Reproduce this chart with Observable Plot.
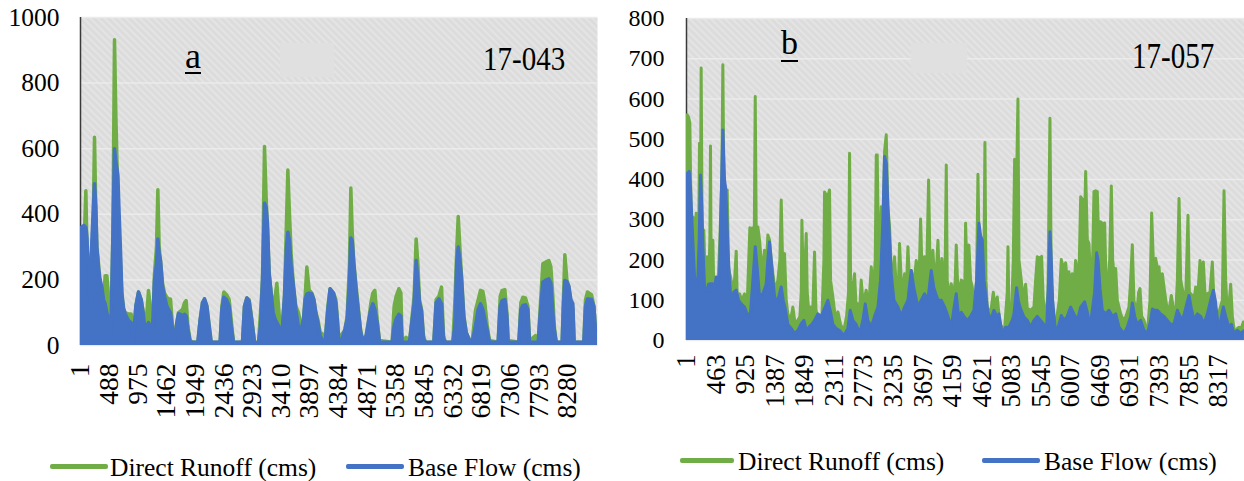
<!DOCTYPE html>
<html><head><meta charset="utf-8">
<script src="https://cdn.jsdelivr.net/npm/d3@7"></script>
<script src="https://cdn.jsdelivr.net/npm/@observablehq/plot@0.6"></script>
<style>
body{margin:0;background:#fff;}
#wrap{position:relative;width:1244px;height:481px;overflow:hidden;font-family:"Liberation Serif",serif;color:#000;}
.panel{position:absolute;top:0;}
.lab{position:absolute;line-height:1;white-space:nowrap;font-family:"Liberation Serif",serif;}
.sw{position:absolute;height:5px;border-radius:2px;}
.patch{position:absolute;background:#e0e0e0;}
.lt{position:absolute;font-size:25.5px;line-height:30px;white-space:nowrap;font-family:"Liberation Serif",serif;}
svg text{font-family:"Liberation Serif",serif;}
</style></head><body>
<svg width="0" height="0" style="position:absolute"><defs>
<pattern id="hatch" patternUnits="userSpaceOnUse" width="5" height="5" patternTransform="rotate(-45)">
<rect width="5" height="5" fill="#dcdcdc"/><line x1="1" y1="0" x2="1" y2="5" stroke="#e7e7e7" stroke-width="1.6"/>
</pattern></defs></svg>
<div id="wrap"></div>
<script>
const GREEN = "#70ad47", BLUE = "#4472c4";
const SERIF = "Liberation Serif";
const seriesNames = ["Direct Runoff (cms)", "Base Flow (cms)"];

// Panel a : station 17-043
const aYTicks = [0,200,400,600,800,1000];
const aXTicks = [1,488,975,1462,1949,2436,2923,3410,3897,4384,4871,5358,5845,6332,6819,7306,7793,8280];
const aDirectRunoff = [[1,70],[12,320],[60,300],[92,472],[110,300],[137,265],[165,80],[194,100],[239,635],[262,400],[279,300],[307,250],[335,150],[364,120],[392,140],[420,213],[449,213],[488,130],[517,30],[551,330],[579,932],[602,700],[636,450],[658,330],[681,250],[704,160],[732,110],[760,100],[817,96],[862,96],[902,30],[942,120],[987,163],[1032,140],[1072,100],[1100,40],[1129,100],[1157,168],[1185,120],[1225,40],[1259,220],[1293,300],[1316,475],[1338,300],[1361,260],[1395,190],[1429,160],[1469,147],[1497,142],[1531,142],[1565,60],[1599,20],[1639,70],[1667,100],[1701,105],[1735,110],[1769,130],[1797,137],[1826,60],[1865,15],[1922,10],[1996,10],[2036,80],[2075,130],[2109,142],[2149,120],[2188,60],[2222,10],[2375,10],[2404,120],[2438,163],[2483,155],[2528,140],[2562,80],[2602,10],[2755,10],[2789,120],[2829,145],[2868,140],[2914,80],[2959,10],[3027,10],[3061,100],[3095,200],[3129,607],[3157,450],[3180,350],[3208,220],[3242,160],[3276,110],[3310,150],[3339,190],[3367,120],[3395,60],[3435,70],[3469,150],[3503,380],[3526,535],[3554,400],[3582,280],[3622,180],[3662,120],[3707,100],[3752,60],[3792,80],[3820,150],[3849,239],[3888,170],[3934,160],[3968,140],[4002,100],[4036,80],[4075,40],[4115,35],[4160,15],[4206,120],[4245,173],[4302,160],[4342,140],[4364,90],[4393,20],[4449,36],[4495,45],[4534,90],[4574,250],[4597,480],[4619,350],[4648,250],[4687,180],[4721,120],[4761,50],[4801,15],[4857,30],[4903,80],[4937,130],[4971,160],[5005,168],[5044,80],[5084,15],[5299,10],[5333,120],[5367,150],[5413,173],[5447,160],[5469,15],[5537,25],[5594,10],[5673,150],[5707,325],[5736,250],[5764,140],[5798,110],[5832,30],[5866,10],[6008,10],[6047,140],[6093,150],[6138,178],[6172,30],[6206,10],[6331,10],[6365,130],[6399,300],[6422,393],[6450,300],[6478,210],[6518,90],[6558,40],[6603,20],[6660,15],[6716,107],[6762,140],[6801,168],[6841,165],[6875,130],[6915,60],[6954,15],[7101,10],[7136,150],[7169,168],[7215,170],[7249,100],[7271,15],[7453,10],[7487,130],[7521,147],[7566,145],[7606,120],[7634,15],[7702,25],[7736,30],[7782,10],[7827,150],[7861,249],[7918,255],[7963,259],[7997,240],[8031,150],[8054,60],[8088,10],[8189,10],[8212,150],[8235,277],[8269,200],[8303,180],[8337,130],[8371,110],[8393,10],[8558,10],[8586,140],[8620,163],[8688,155],[8728,120],[8756,46],[8790,10]];
const aBaseFlow = [[1,300],[12,360],[60,366],[92,360],[110,330],[137,218],[165,120],[194,320],[239,493],[262,420],[279,300],[307,239],[335,200],[364,178],[392,140],[420,127],[449,100],[488,76],[517,25],[551,330],[579,600],[602,560],[636,520],[658,400],[681,290],[704,157],[732,115],[760,97],[817,76],[862,70],[902,20],[942,120],[987,163],[1032,140],[1072,90],[1100,40],[1129,60],[1157,70],[1185,60],[1225,50],[1259,200],[1293,250],[1316,325],[1338,280],[1361,259],[1395,180],[1429,150],[1469,120],[1497,110],[1531,100],[1565,50],[1599,10],[1639,70],[1667,97],[1701,95],[1735,90],[1769,95],[1797,90],[1826,50],[1865,12],[1922,10],[1996,10],[2036,80],[2075,130],[2109,142],[2149,120],[2188,60],[2222,10],[2375,10],[2404,110],[2438,147],[2483,140],[2528,120],[2562,60],[2602,10],[2755,10],[2789,120],[2829,145],[2868,135],[2914,75],[2959,10],[3027,8],[3061,60],[3095,200],[3129,434],[3157,420],[3180,370],[3208,220],[3242,160],[3276,100],[3310,80],[3339,70],[3367,60],[3395,45],[3435,60],[3469,150],[3503,300],[3526,345],[3554,320],[3582,240],[3622,180],[3662,110],[3707,55],[3752,50],[3792,80],[3820,140],[3849,157],[3888,160],[3934,157],[3968,140],[4002,100],[4036,70],[4075,30],[4115,15],[4160,10],[4206,110],[4245,173],[4302,160],[4342,130],[4364,86],[4393,15],[4449,20],[4495,50],[4534,80],[4574,200],[4597,328],[4619,320],[4648,249],[4687,168],[4721,110],[4761,45],[4801,10],[4857,30],[4903,80],[4937,110],[4971,127],[5005,110],[5044,70],[5084,10],[5299,10],[5333,60],[5367,81],[5413,95],[5447,90],[5469,10],[5537,10],[5594,10],[5673,130],[5707,259],[5736,200],[5764,130],[5798,107],[5832,20],[5866,10],[6008,10],[6047,130],[6093,142],[6138,127],[6172,20],[6206,10],[6331,10],[6365,60],[6399,260],[6422,300],[6450,260],[6478,208],[6518,86],[6558,40],[6603,20],[6660,10],[6716,60],[6762,110],[6801,127],[6841,110],[6875,80],[6915,46],[6954,10],[7101,10],[7136,120],[7169,137],[7215,140],[7249,90],[7271,10],[7453,10],[7487,110],[7521,122],[7566,124],[7606,110],[7634,10],[7702,10],[7736,10],[7782,10],[7827,120],[7861,193],[7918,200],[7963,203],[7997,190],[8031,100],[8054,50],[8088,10],[8189,10],[8212,130],[8235,198],[8269,195],[8303,180],[8337,140],[8371,127],[8393,10],[8558,10],[8586,120],[8620,142],[8688,140],[8728,120],[8756,46],[8790,10]];

// Panel b : station 17-057
const bYTicks = [0,100,200,300,400,500,600,700,800];
const bXTicks = [1,463,925,1387,1849,2311,2773,3235,3697,4159,4621,5083,5545,6007,6469,6931,7393,7855,8317];
const bDirectRunoff = [[1,230],[12,561],[33,555],[53,540],[74,300],[100,307],[126,250],[152,316],[168,150],[189,200],[204,490],[215,200],[230,677],[246,250],[272,274],[293,150],[324,208],[345,120],[366,250],[376,483],[387,150],[413,249],[428,120],[465,150],[491,130],[522,250],[553,400],[569,685],[585,380],[606,370],[637,374],[658,180],[699,150],[741,120],[778,222],[793,110],[830,116],[866,100],[908,116],[949,90],[991,280],[1012,278],[1038,280],[1059,240],[1075,606],[1090,280],[1116,282],[1142,250],[1168,200],[1194,180],[1220,224],[1246,170],[1272,262],[1298,250],[1325,200],[1351,166],[1387,120],[1429,150],[1460,200],[1481,349],[1502,200],[1533,216],[1559,100],[1585,66],[1627,50],[1663,83],[1700,40],[1741,50],[1773,60],[1794,120],[1804,299],[1825,150],[1856,200],[1872,266],[1887,120],[1918,60],[1939,83],[1971,60],[2002,220],[2023,80],[2054,40],[2080,33],[2117,60],[2148,200],[2158,369],[2189,360],[2221,365],[2236,374],[2252,150],[2288,108],[2325,60],[2367,71],[2408,40],[2460,25],[2502,60],[2533,120],[2549,465],[2565,150],[2596,120],[2627,166],[2653,80],[2679,91],[2705,70],[2731,150],[2762,90],[2809,125],[2846,80],[2888,183],[2919,120],[2950,200],[2966,461],[2981,461],[3002,200],[3023,240],[3044,332],[3065,240],[3096,470],[3122,511],[3148,330],[3174,282],[3200,180],[3226,150],[3252,208],[3283,120],[3315,150],[3330,241],[3356,150],[3382,120],[3409,166],[3435,120],[3461,233],[3487,140],[3513,174],[3554,140],[3591,199],[3617,150],[3643,200],[3659,302],[3680,180],[3711,150],[3721,208],[3752,150],[3784,399],[3805,200],[3825,150],[3851,224],[3888,120],[3930,249],[3956,130],[3992,204],[4023,130],[4044,200],[4060,436],[4075,150],[4112,100],[4138,141],[4169,100],[4200,150],[4216,237],[4242,120],[4268,130],[4294,150],[4326,145],[4347,100],[4362,291],[4378,200],[4414,237],[4440,150],[4466,133],[4503,80],[4534,150],[4555,413],[4576,200],[4607,233],[4628,150],[4649,200],[4664,492],[4680,150],[4701,80],[4727,75],[4763,80],[4795,120],[4826,80],[4857,108],[4899,40],[4935,33],[4972,30],[5013,120],[5024,233],[5039,80],[5076,50],[5107,200],[5128,450],[5149,300],[5180,600],[5196,200],[5232,150],[5263,100],[5300,140],[5326,80],[5378,75],[5430,83],[5456,150],[5482,208],[5514,205],[5550,209],[5576,100],[5612,50],[5649,120],[5680,552],[5701,150],[5743,33],[5795,66],[5826,100],[5857,201],[5889,180],[5925,193],[5951,150],[5977,171],[6003,120],[6029,166],[6055,120],[6081,199],[6108,150],[6139,200],[6160,357],[6191,350],[6222,300],[6238,420],[6264,250],[6290,241],[6316,150],[6347,200],[6368,370],[6394,372],[6420,370],[6441,250],[6472,295],[6503,290],[6535,292],[6556,150],[6587,141],[6613,200],[6639,384],[6660,200],[6691,150],[6707,179],[6733,100],[6785,66],[6826,50],[6863,58],[6915,83],[6941,150],[6967,238],[6993,100],[7035,66],[7066,120],[7087,129],[7113,60],[7150,50],[7202,17],[7243,100],[7269,317],[7295,200],[7332,204],[7358,180],[7384,183],[7410,130],[7436,166],[7473,120],[7514,75],[7545,80],[7577,112],[7608,80],[7645,66],[7671,150],[7697,353],[7723,150],[7764,116],[7801,100],[7837,311],[7858,120],[7905,112],[7931,100],[7957,133],[7994,120],[8025,199],[8046,150],[8077,195],[8108,100],[8139,116],[8181,120],[8217,195],[8243,100],[8296,50],[8337,80],[8374,100],[8400,372],[8426,150],[8452,66],[8483,100],[8504,140],[8530,60],[8567,17],[8608,30],[8634,33],[8671,30],[8702,46],[8718,40]];
const bBaseFlow = [[1,250],[12,415],[43,420],[64,380],[85,300],[105,230],[126,160],[152,133],[178,150],[199,250],[220,411],[241,330],[257,233],[283,133],[314,120],[345,140],[376,141],[413,141],[439,130],[465,158],[491,140],[517,166],[543,350],[569,523],[595,400],[616,374],[647,233],[673,150],[699,91],[741,120],[778,125],[814,100],[856,91],[908,83],[960,60],[1002,70],[1038,150],[1075,233],[1106,180],[1142,110],[1194,116],[1246,140],[1272,200],[1298,245],[1325,200],[1351,150],[1377,110],[1408,90],[1444,110],[1481,133],[1512,100],[1543,80],[1585,40],[1637,30],[1689,17],[1741,25],[1794,42],[1835,50],[1872,25],[1924,35],[1960,40],[2002,50],[2054,66],[2106,60],[2158,80],[2210,100],[2252,70],[2288,40],[2340,30],[2393,25],[2460,12],[2523,30],[2559,75],[2601,50],[2653,40],[2705,17],[2757,50],[2794,91],[2835,50],[2888,33],[2940,60],[2992,83],[3033,150],[3070,300],[3096,457],[3122,440],[3148,332],[3174,250],[3200,166],[3242,100],[3304,83],[3356,60],[3409,83],[3461,100],[3513,174],[3554,130],[3617,83],[3669,100],[3721,116],[3773,100],[3825,174],[3867,130],[3930,100],[3982,100],[4034,83],[4086,60],[4138,33],[4180,80],[4216,116],[4252,60],[4294,70],[4336,60],[4388,50],[4440,60],[4492,75],[4534,150],[4571,291],[4597,260],[4623,249],[4649,150],[4675,116],[4711,70],[4753,50],[4805,75],[4847,60],[4883,66],[4935,17],[4987,33],[5039,33],[5091,50],[5118,66],[5159,131],[5185,100],[5211,83],[5274,58],[5326,50],[5378,33],[5430,50],[5482,60],[5534,50],[5586,40],[5628,30],[5659,150],[5680,270],[5701,200],[5722,100],[5769,17],[5821,40],[5857,62],[5899,50],[5951,60],[6003,83],[6055,66],[6108,50],[6160,83],[6222,96],[6264,70],[6305,33],[6342,75],[6378,120],[6410,218],[6431,200],[6462,130],[6498,75],[6550,66],[6602,75],[6655,60],[6707,66],[6759,33],[6837,17],[6889,33],[6941,60],[6967,93],[7004,60],[7045,40],[7097,50],[7150,25],[7202,17],[7254,50],[7280,78],[7316,75],[7358,75],[7410,66],[7462,60],[7514,50],[7566,40],[7618,41],[7671,75],[7712,60],[7749,50],[7785,70],[7816,90],[7853,112],[7889,80],[7931,50],[7983,66],[8035,60],[8087,41],[8139,66],[8191,100],[8233,125],[8264,100],[8306,40],[8348,50],[8389,83],[8426,60],[8478,33],[8515,40],[8556,17],[8608,25],[8660,17],[8718,25]];

const toRows = arr => arr.map(([day, v]) => ({day, v}));

function panel({width, marginLeft, marginRight, marginTop, marginBottom, xDomain, yDomain, xTicks, yTicks, dr, bf, sw, yFont, yPad, xFont, xPad}) {
  return Plot.plot({
    width, height: 440, marginLeft, marginRight, marginTop, marginBottom,
    style: {fontFamily: SERIF, color: "#000", background: "transparent", overflow: "visible"},
    x: {domain: xDomain},
    y: {domain: yDomain},
    marks: [
      Plot.frame({fill: "url(#hatch)"}),
      Plot.gridY({ticks: yTicks, stroke: "#ebebeb", strokeOpacity: 1, strokeWidth: 1.5}),
      Plot.ruleX([xDomain[0]], {stroke: "#3a3a3a", strokeWidth: 1.5}),
      Plot.areaY(toRows(dr), {x: "day", y: "v", fill: GREEN, clip: true}),
      Plot.line(toRows(dr), {x: "day", y: "v", stroke: GREEN, strokeWidth: sw, strokeLinejoin: "round", clip: true}),
      Plot.areaY(toRows(bf), {x: "day", y: "v", fill: BLUE, clip: true}),
      Plot.line(toRows(bf), {x: "day", y: "v", stroke: BLUE, strokeWidth: sw, strokeLinejoin: "round", clip: true}),
      Plot.axisY({ticks: yTicks, tickFormat: d => String(d), tickSize: 0, tickPadding: yPad, fontSize: yFont, fontFamily: SERIF, fill: "#000", label: null}),
      Plot.axisX({ticks: xTicks, tickFormat: d => String(d), tickRotate: -90, tickSize: 0, tickPadding: xPad, fontSize: xFont, fontFamily: SERIF, fill: "#000", label: null})
    ]
  });
}

const wrap = document.getElementById("wrap");
function addDiv(cls, left, top, html, extra) {
  const d = document.createElement("div");
  d.className = cls; d.style.left = left + "px"; d.style.top = top + "px";
  if (html != null) d.textContent = html;
  Object.assign(d.style, extra || {});
  wrap.appendChild(d);
  return d;
}

const pa = document.createElement("div"); pa.className = "panel"; pa.style.left = "0px";
pa.appendChild(panel({width: 620, marginLeft: 80, marginRight: 23, marginTop: 17, marginBottom: 95,
  xDomain: [1, 8790], yDomain: [0, 1000], xTicks: aXTicks, yTicks: aYTicks,
  dr: aDirectRunoff, bf: aBaseFlow, sw: 3.5, yFont: 25.5, yPad: 21, xFont: 27.5, xPad: 18}));
wrap.appendChild(pa);

const pb = document.createElement("div"); pb.className = "panel"; pb.style.left = "620px";
pb.appendChild(panel({width: 624, marginLeft: 66, marginRight: 0, marginTop: 18, marginBottom: 100,
  xDomain: [1, 8720], yDomain: [0, 800], xTicks: bXTicks, yTicks: bYTicks,
  dr: bDirectRunoff, bf: bBaseFlow, sw: 3, yFont: 24, yPad: 22, xFont: 26.5, xPad: 14}));
wrap.appendChild(pb);

// faint text-box patches behind the panel labels
addDiv("patch", 280, 43, null, {width: "54px", height: "34px"});
addDiv("patch", 911, 43, null, {width: "56px", height: "30px"});

// panel labels
addDiv("lab", 185, 38, "a", {fontSize: "36px", textDecoration: "underline", textDecorationThickness: "2px", textUnderlineOffset: "4px"});
addDiv("lab", 483, 43, "17-043", {fontSize: "33px", transform: "scaleX(0.88)", transformOrigin: "left top"});
addDiv("lab", 781, 26, "b", {fontSize: "34px", textDecoration: "underline", textDecorationThickness: "2px", textUnderlineOffset: "6px"});
addDiv("lab", 1132, 39, "17-057", {fontSize: "35px", transform: "scaleX(0.83)", transformOrigin: "left top"});

// legends
addDiv("sw", 50, 464, null, {width: "58px", background: GREEN});
addDiv("lt", 110, 453, seriesNames[0]);
addDiv("sw", 346, 464, null, {width: "58px", background: BLUE});
addDiv("lt", 408, 453, seriesNames[1]);
addDiv("sw", 680, 458, null, {width: "54px", background: GREEN});
addDiv("lt", 738, 447, seriesNames[0]);
addDiv("sw", 982, 458, null, {width: "58px", background: BLUE});
addDiv("lt", 1044, 447, seriesNames[1]);
</script>
</body></html>
